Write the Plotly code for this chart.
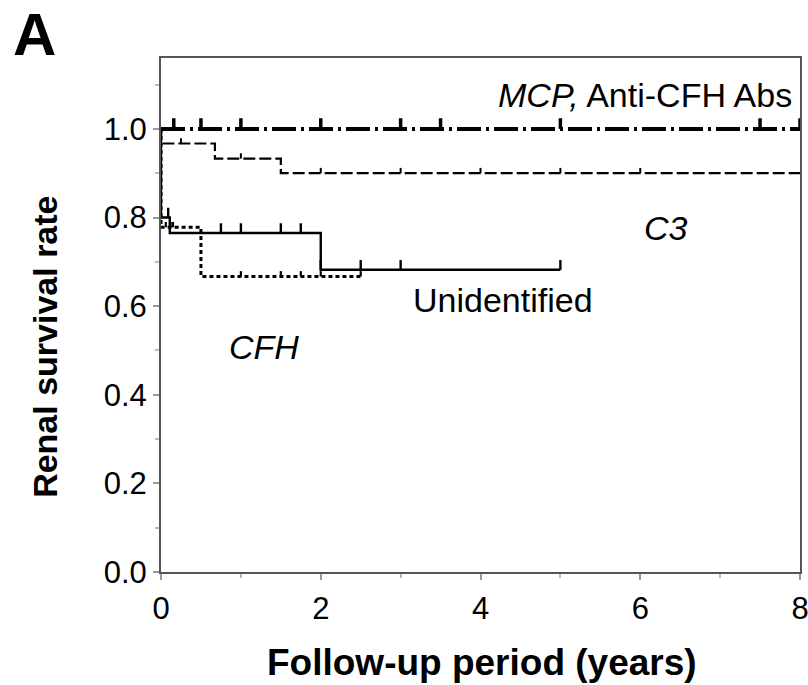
import plotly.graph_objects as go

# ---- data (Kaplan-Meier steps) ----
top_x = [0, 8]
top_y = [1.0, 1.0]
top_cens = [0.16, 0.5, 1.0, 2.0, 3.0, 3.5, 5.0, 7.5, 8.0]

c3_x = [0, 0, 0.675, 1.5, 8.0]
c3_y = [1.0, 0.967, 0.933, 0.90, 0.90]
c3_cens = [0.25, 1.0, 2.0, 3.0, 4.0, 5.0, 6.0]

unid_x = [0, 0, 0.11, 2.0, 5.0]
unid_y = [1.0, 0.80, 0.765, 0.682, 0.682]
unid_cens = [0.09, 0.75, 1.0, 1.5, 1.75, 2.0, 2.5, 3.0, 5.0]

cfh_x = [0, 0, 0.5, 2.5]
cfh_y = [1.0, 0.778, 0.667, 0.667]
cfh_cens = [0.06, 0.12, 0.15, 1.0, 1.5, 1.75, 2.0, 2.5]

x_ticks = [0, 2, 4, 6, 8]
y_ticks = [0.0, 0.2, 0.4, 0.6, 0.8, 1.0]
y_tick_text = ["0.0", "0.2", "0.4", "0.6", "0.8", "1.0"]

FONT = "Liberation Sans, Arial, sans-serif"


def level_at(xs, ys, t):
    val = ys[0]
    for xi, yi in zip(xs, ys):
        if xi <= t:
            val = yi
    return val


def censor_marks(xs, ys, times, h):
    cx, cy = [], []
    for t in times:
        v = level_at(xs, ys, t)
        cx += [t, t, None]
        cy += [v, v + h, None]
    return cx, cy


fig = go.Figure()

series = [
    (top_x, top_y, top_cens, 0.024, dict(color="black", width=4, dash="24px,5px,3px,5px"), 3.5),
    (c3_x, c3_y, c3_cens, 0.012, dict(color="black", width=2.2, dash="12px,4px"), 2),
    (unid_x, unid_y, unid_cens, 0.022, dict(color="black", width=2.4), 2.4),
    (cfh_x, cfh_y, cfh_cens, 0.012, dict(color="black", width=3, dash="4px,3px"), 2.2),
]

for xs, ys, cens, h, line, tw in series:
    fig.add_trace(go.Scatter(x=xs, y=ys, mode="lines", line=dict(shape="hv", **line),
                             showlegend=False, hoverinfo="skip", cliponaxis=False))
    cx, cy = censor_marks(xs, ys, cens, h)
    fig.add_trace(go.Scatter(x=cx, y=cy, mode="lines", line=dict(color="black", width=tw),
                             showlegend=False, hoverinfo="skip", cliponaxis=False))

axis_common = dict(
    showline=True, linecolor="#555555", linewidth=2, mirror=True,
    showgrid=False, zeroline=False, automargin=False,
    ticks="outside", tickcolor="#999999", ticklen=6, tickwidth=1.5,
    ticklabeloverflow="allow",
    tickfont=dict(family=FONT, size=31, color="black"),
)

fig.update_xaxes(range=[0, 8], tickvals=x_ticks, ticklabelstandoff=2,
                 minor=dict(dtick=1, ticks="outside", ticklen=4, tickcolor="#bbbbbb", tickwidth=1.5),
                 **axis_common)
fig.update_yaxes(range=[0, 1.16], tickvals=y_ticks, ticktext=y_tick_text, ticklabelstandoff=0,
                 minor=dict(tickvals=[0.1, 0.3, 0.5, 0.7, 0.9, 1.1], ticks="outside", ticklen=4,
                            tickcolor="#bbbbbb", tickwidth=1.5),
                 **axis_common)

ann_font = dict(family=FONT, size=34, color="black")
annotations = [
    dict(x=7.92, y=1.077, xref="x", yref="y", text="<i>MCP,</i> Anti-CFH Abs",
         xanchor="right", yanchor="middle", showarrow=False, font=ann_font),
    dict(x=6.32, y=0.777, xref="x", yref="y", text="<i>C3</i>",
         xanchor="center", yanchor="middle", showarrow=False, font=ann_font),
    dict(x=4.28, y=0.614, xref="x", yref="y", text="Unidentified",
         xanchor="center", yanchor="middle", showarrow=False, font=ann_font),
    dict(x=1.29, y=0.508, xref="x", yref="y", text="<i>CFH</i>",
         xanchor="center", yanchor="middle", showarrow=False, font=ann_font),
    dict(x=0.502, y=0, xref="paper", yref="paper", text="<b>Follow-up period (years)</b>",
         xanchor="center", yanchor="middle", yshift=-90, showarrow=False,
         font=dict(family=FONT, size=37, color="black")),
    dict(x=0, y=0.438, xref="paper", yref="paper", text="<b>Renal survival rate</b>",
         xanchor="center", yanchor="middle", xshift=-116, textangle=-90, showarrow=False,
         font=dict(family=FONT, size=34, color="black")),
    dict(x=0, y=1, xref="paper", yref="paper", text="<b>A</b>",
         xanchor="left", yanchor="middle", xshift=-150, yshift=24, showarrow=False,
         font=dict(family=FONT, size=60, color="black")),
]

fig.update_layout(
    width=808, height=685,
    margin=dict(l=161, r=8, t=58, b=113),
    paper_bgcolor="white", plot_bgcolor="white",
    annotations=annotations,
    font=dict(family=FONT),
)

fig.write_html("out.html")
